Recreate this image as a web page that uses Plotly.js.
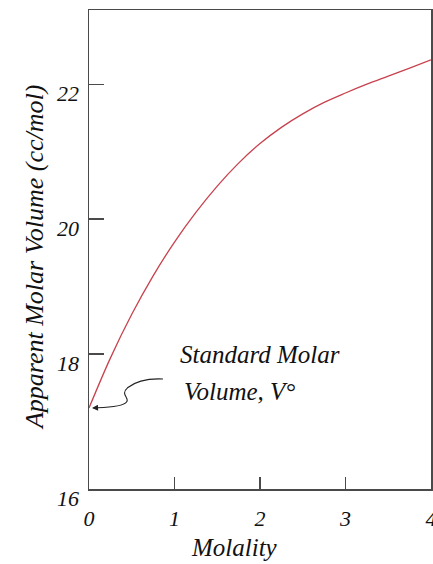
<!DOCTYPE html>
<html>
<head>
<meta charset="utf-8">
<script src="https://cdn.plot.ly/plotly-3.0.1.min.js"></script>
<style>html,body{margin:0;padding:0;background:#fff;}#chart{width:433px;height:564px;}</style>
</head>
<body>
<div id="chart"></div>
<script>
// Data
const molality = [0, 0.25, 0.5, 0.75, 1.0, 1.25, 1.5, 1.75, 2.0, 2.25, 2.5, 2.75, 3.0, 3.25, 3.5, 3.75, 4.0];
const apparentMolarVolume = [17.20, 17.94, 18.59, 19.16, 19.66, 20.10, 20.49, 20.83, 21.12, 21.36, 21.56, 21.73, 21.87, 22.00, 22.12, 22.24, 22.36];
const xTicks = [0, 1, 2, 3, 4];
const yTicks = [16, 18, 20, 22];
const xTitle = "Molality";
const yTitle = "Apparent Molar Volume (cc/mol)";
const noteLines = ["Standard Molar", "Volume, V°"];
const standardVolume = [0, 17.20];

const fontFam = '"Liberation Serif", "Times New Roman", "DejaVu Serif", serif';
const axisCol = "#4a4a4a";
const it = v => "<i>" + v + "</i>";

const trace = {
  x: molality, y: apparentMolarVolume, type: "scatter", mode: "lines",
  line: {color: "#c8424e", width: 1.3, shape: "spline", smoothing: 1},
  hoverinfo: "skip", showlegend: false
};

const layout = {
  width: 433, height: 564,
  margin: {l: 89, r: 2, t: 10, b: 75, pad: 0},
  paper_bgcolor: "#fff", plot_bgcolor: "#fff",
  font: {family: fontFam},
  showlegend: false,
  xaxis: {
    range: [0, 4], tickvals: xTicks, ticktext: xTicks.map(it),
    showgrid: false, zeroline: false, showline: true, mirror: true,
    linecolor: axisCol, linewidth: 1.5,
    ticks: "inside", ticklen: 12, tickwidth: 1.3, tickcolor: axisCol,
    ticklabelstandoff: 9, ticklabeloverflow: "allow",
    tickfont: {family: fontFam, size: 22, color: "#111"}
  },
  yaxis: {
    range: [16, 23.1], tickvals: yTicks, ticktext: yTicks.map(it),
    showgrid: false, zeroline: false, showline: true, mirror: true,
    linecolor: axisCol, linewidth: 1.5,
    ticks: "inside", ticklen: 15, tickwidth: 1.3, tickcolor: axisCol,
    ticklabelshift: 9, ticklabelstandoff: 4,
    tickfont: {family: fontFam, size: 22, color: "#111"}
  },
  shapes: [{
    type: "path", xref: "x", yref: "y",
    path: "M0.865,17.63 C0.70,17.64 0.55,17.60 0.45,17.50 C0.36,17.40 0.48,17.35 0.44,17.29 C0.41,17.24 0.33,17.215 0.10,17.205",
    line: {color: "#222", width: 1.1}
  }],
  annotations: [
    {x: 0.035, y: standardVolume[1], ax: 0.12, ay: 17.205, xref: "x", yref: "y", axref: "x", ayref: "y",
     showarrow: true, arrowhead: 2, arrowsize: 1.1, arrowwidth: 1.1, arrowcolor: "#222", text: ""},
    {x: 1.04, y: 17.99, xref: "x", yref: "y", xanchor: "left", yanchor: "middle", showarrow: false,
     text: it(noteLines[0]), font: {family: fontFam, size: 25, color: "#111"}},
    {x: 1.09, y: 17.44, xref: "x", yref: "y", xanchor: "left", yanchor: "middle", showarrow: false,
     text: it(noteLines[1]), font: {family: fontFam, size: 25, color: "#111"}},
    {x: 0.424, y: -0.123, xref: "paper", yref: "paper", xanchor: "center", yanchor: "middle", showarrow: false,
     text: it(xTitle), font: {family: fontFam, size: 25, color: "#111"}},
    {x: -0.161, y: 0.484, xref: "paper", yref: "paper", xanchor: "center", yanchor: "middle", showarrow: false,
     textangle: -90, text: it(yTitle), font: {family: fontFam, size: 26, color: "#111"}}
  ]
};

Plotly.newPlot("chart", [trace], layout, {staticPlot: true, displayModeBar: false});
</script>
</body>
</html>
